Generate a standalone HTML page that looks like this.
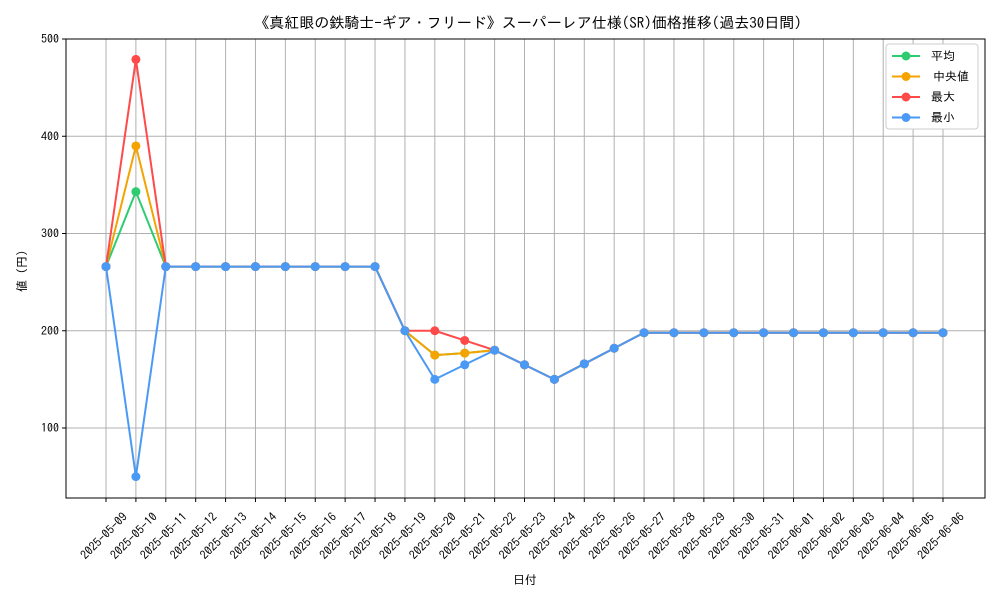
<!DOCTYPE html>
<html><head><meta charset="utf-8"><style>
body{margin:0;background:#fff;}
svg{font-family:"IPAGothic","Noto Sans CJK JP",sans-serif;}
</style></head><body>
<svg id="c" width="1000" height="600"></svg>
<script>
const dates=["2025-05-09","2025-05-10","2025-05-11","2025-05-12","2025-05-13","2025-05-14","2025-05-15","2025-05-16","2025-05-17","2025-05-18","2025-05-19","2025-05-20","2025-05-21","2025-05-22","2025-05-23","2025-05-24","2025-05-25","2025-05-26","2025-05-27","2025-05-28","2025-05-29","2025-05-30","2025-05-31","2025-06-01","2025-06-02","2025-06-03","2025-06-04","2025-06-05","2025-06-06"];
const meanVals=[266,343,266,266,266,266,266,266,266,266,200,175,177,180,165,150,166,182,198,198,198,198,198,198,198,198,198,198,198];
const medianVals=[266,390,266,266,266,266,266,266,266,266,200,175,177,180,165,150,166,182,198,198,198,198,198,198,198,198,198,198,198];
const maxVals=[266,479,266,266,266,266,266,266,266,266,200,200,190,180,165,150,166,182,198,198,198,198,198,198,198,198,198,198,198];
const minVals=[266,50,266,266,266,266,266,266,266,266,200,150,165,180,165,150,166,182,198,198,198,198,198,198,198,198,198,198,198];
const yTicks=[100,200,300,400,500];
const seriesNames=["平均","中央値","最大","最小"];
const colors=["#2ecc71","#f5a300","#ff4a4a","#4a9af5"];

const NS="http://www.w3.org/2000/svg";
const svg=document.getElementById('c');
function mk(t,a,txt){const e=document.createElementNS(NS,t);for(const k in a)e.setAttribute(k,a[k]);if(txt!=null)e.textContent=txt;svg.appendChild(e);return e;}
const L=66,R=985,T=39,B=498;
const x=i=>106+i*(943-106)/(dates.length-1);
const y=v=>525.25-v*0.9725;

dates.forEach((d,i)=>{const g=mk('line',{x1:x(i),x2:x(i),y1:T,y2:B,stroke:'#b0b0b0','stroke-width':1});

});
yTicks.forEach(v=>{const g=mk('line',{x1:L,x2:R,y1:y(v),y2:y(v),stroke:'#b0b0b0','stroke-width':1});

});

const all=[meanVals,medianVals,maxVals,minVals];
[0,1,2,3].forEach(s=>{const vals=all[s];
const p=mk('polyline',{points:vals.map((v,i)=>x(i)+','+y(v)).join(' '),fill:'none',stroke:colors[s],'stroke-width':2});


vals.forEach((v,i)=>{const c=mk('circle',{cx:x(i),cy:y(v),r:4.5,fill:colors[s]});

});});

const f=mk('rect',{x:L,y:T,width:R-L,height:B-T,fill:'none',stroke:'#000','stroke-width':1});



yTicks.forEach(v=>{mk('line',{x1:L-4,x2:L,y1:y(v),y2:y(v),stroke:'#000'});
const t=mk('text',{x:L-7,y:y(v)+4,'text-anchor':'end','font-size':12},String(v));

});
dates.forEach((d,i)=>{mk('line',{x1:x(i),x2:x(i),y1:B,y2:B+4,stroke:'#000'});
const cx=x(i)-2, cy=536;
const t=mk('text',{x:cx,y:cy+4,'text-anchor':'middle','font-size':12,transform:`rotate(-45 ${cx} ${cy})`},d);

});

const ti=mk('text',{x:528,y:28,'text-anchor':'middle','font-size':15},"《真紅眼の鉄騎士-ギア・フリード》スーパーレア仕様(SR)価格推移(過去30日間)");


const xl=mk('text',{x:525,y:584,'text-anchor':'middle','font-size':12},"日付");


const yl=mk('text',{x:26,y:268,'text-anchor':'middle','font-size':12,transform:'rotate(-90 26 268)'},"値（円）");



const lb=mk('rect',{x:886,y:44,width:92,height:85,rx:3,fill:'#fff',stroke:'#ccc'});


seriesNames.forEach((n,s)=>{const yy=56+s*20.5;
mk('line',{x1:892,x2:920,y1:yy,y2:yy,stroke:colors[s],'stroke-width':2});
mk('circle',{cx:906,cy:yy,r:4.5,fill:colors[s]});
const t=mk('text',{x:(s==1?933:931),y:yy+4,'font-size':12},n);

});
</script>
</body></html>
